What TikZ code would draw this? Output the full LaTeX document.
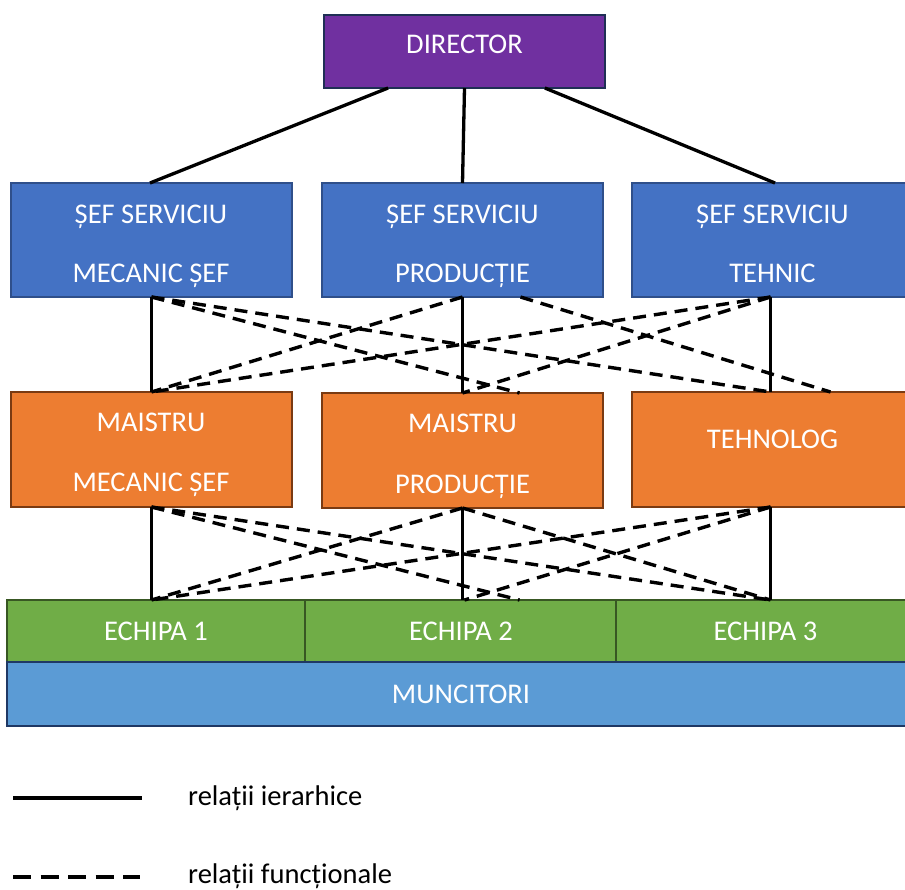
\documentclass[tikz,border=0pt]{standalone}
\usepackage{fontspec}
\setmainfont{Carlito}
\usetikzlibrary{calc}

\definecolor{dirfill}{HTML}{7030A0}
\definecolor{dirline}{HTML}{1F2F55}
\definecolor{sfill}{HTML}{4472C4}
\definecolor{sline}{HTML}{2F4F8A}
\definecolor{mfill}{HTML}{ED7D31}
\definecolor{mline}{HTML}{7A3A12}
\definecolor{efill}{HTML}{70AD47}
\definecolor{eline}{HTML}{385723}
\definecolor{wfill}{HTML}{5B9BD5}
\definecolor{wline}{HTML}{1F3864}

\begin{document}
\begin{tikzpicture}[x=1pt,y=-1pt,
  box/.style={line width=1.5pt, inner sep=0pt, outer sep=0pt},
  lbl/.style={text=white, anchor=base, inner sep=0pt, font=\fontsize{28.5}{34}\selectfont},
  legtext/.style={text=black, anchor=base west, inner sep=0pt, font=\fontsize{28.5}{34}\selectfont},
  hier/.style={line width=3.3pt},
  func/.style={line width=3.4pt, dash pattern=on 13pt off 8pt},
  leghier/.style={line width=4pt},
  legfunc/.style={line width=4pt, dash pattern=on 18pt off 9.5pt},
]
\useasboundingbox (0,0) rectangle (905,889);

% ---- boxes ----
\node[box, draw=dirline, fill=dirfill, minimum width=281pt, minimum height=73pt] (dir) at (464.5,51.5) {};

\node[box, draw=sline, fill=sfill, minimum width=281pt, minimum height=114pt] (s1) at (151.5,240) {};
\node[box, draw=sline, fill=sfill, minimum width=281pt, minimum height=114pt] (s2) at (462.5,240) {};
\node[box, draw=sline, fill=sfill, minimum width=281pt, minimum height=114pt] (s3) at (772.5,240) {};

\node[box, draw=mline, fill=mfill, minimum width=281pt, minimum height=115pt] (m1) at (151.5,449.5) {};
\node[box, draw=mline, fill=mfill, minimum width=281pt, minimum height=115pt] (m2) at (462.5,450.5) {};
\node[box, draw=mline, fill=mfill, minimum width=281pt, minimum height=115pt] (m3) at (772.5,449.5) {};

\node[box, draw=eline, fill=efill, minimum width=298pt, minimum height=62pt] (e1) at (156,631) {};
\node[box, draw=eline, fill=efill, minimum width=311pt, minimum height=62pt] (e2) at (460.5,631) {};
\node[box, draw=eline, fill=efill, minimum width=297pt, minimum height=62pt] (e3) at (764.5,631) {};

\node[box, draw=wline, fill=wfill, minimum width=906pt, minimum height=64pt] (mun) at (460,694) {};

% ---- texts ----
\node[lbl] (tdir) at (464.5,53.5) {DIRECTOR};

\node[lbl] (ts1a) at (151,223) {ȘEF SERVICIU};
\node[lbl] (ts1b) at (151,282) {MECANIC ȘEF};
\node[lbl] (ts2a) at (462.5,223) {ȘEF SERVICIU};
\node[lbl] (ts2b) at (462.5,282) {PRODUCȚIE};
\node[lbl] (ts3a) at (772.5,223) {ȘEF SERVICIU};
\node[lbl] (ts3b) at (772.5,282) {TEHNIC};

\node[lbl] (tm1a) at (151,431) {MAISTRU};
\node[lbl] (tm1b) at (151,491) {MECANIC ȘEF};
\node[lbl] (tm2a) at (462.5,432) {MAISTRU};
\node[lbl] (tm2b) at (462.5,493) {PRODUCȚIE};
\node[lbl] (tm3) at (772.5,448) {TEHNOLOG};

\node[lbl] (te1) at (156,640) {ECHIPA 1};
\node[lbl] (te2) at (461,640) {ECHIPA 2};
\node[lbl] (te3) at (765.5,640) {ECHIPA 3};
\node[lbl] (tmun) at (461,703) {MUNCITORI};

% ---- hierarchical links ----
\draw[hier] ($(dir.south west)!0.228!(dir.south east)$) -- ($(s1.north)+(-1.5,0)$);
\draw[hier] (dir.south) -- (s2.north);
\draw[hier] ($(dir.south west)!0.786!(dir.south east)$) -- ($(s3.north)+(2.5,0)$);

\draw[hier] (s1.south) -- (m1.north);
\draw[hier] (s2.south) -- (m2.north);
\draw[hier] ($(s3.south)+(-2,0)$) -- ($(m3.north)+(-2,0)$);

\draw[hier] (m1.south) -- (m1.south |- e1.north);
\draw[hier] (m2.south) -- (m2.south |- e2.north);
\draw[hier] ($(m3.south)+(-2,0)$) -- ($(m3.south |- e3.north)+(-2,0)$);

% ---- functional links: chiefs to foremen ----
\draw[func] (s1.south) -- ($(m2.north)+(57,0)$);
\draw[func] (s1.south) -- ($(m3.north)+(-2,0)$);
\draw[func] (s2.south) -- (m1.north);
\draw[func] ($(s3.south)+(-2,0)$) -- (m1.north);
\draw[func] ($(s2.south)+(58,0)$) -- ($(m3.north)+(58,0)$);
\draw[func] ($(s3.south)+(-2,0)$) -- (m2.north);

% ---- functional links: foremen to teams ----
\draw[func] (m1.south) -- ($(m2.south |- e2.north)+(57,0)$);
\draw[func] (m1.south) -- ($(m3.south |- e3.north)+(-2,0)$);
\draw[func] (m2.south) -- (m1.south |- e1.north);
\draw[func] (m2.south) -- ($(m3.south |- e3.north)+(-2,0)$);
\draw[func] ($(m3.south)+(-2,0)$) -- (m1.south |- e1.north);
\draw[func] ($(m3.south)+(-2,0)$) -- ($(m2.south |- e2.north)+(2,0)$);

% ---- legend ----
\coordinate (lh1) at (13,798);
\coordinate (lh2) at (142,798);
\coordinate (lf1) at (13,877);
\coordinate (lf2) at (140,877);
\draw[leghier] (lh1) -- (lh2);
\draw[legfunc] (lf1) -- (lf2);
\node[legtext] (lth) at (188,805) {relații ierarhice};
\node[legtext] (ltf) at (188,883) {relații funcționale};
\end{tikzpicture}
\end{document}
